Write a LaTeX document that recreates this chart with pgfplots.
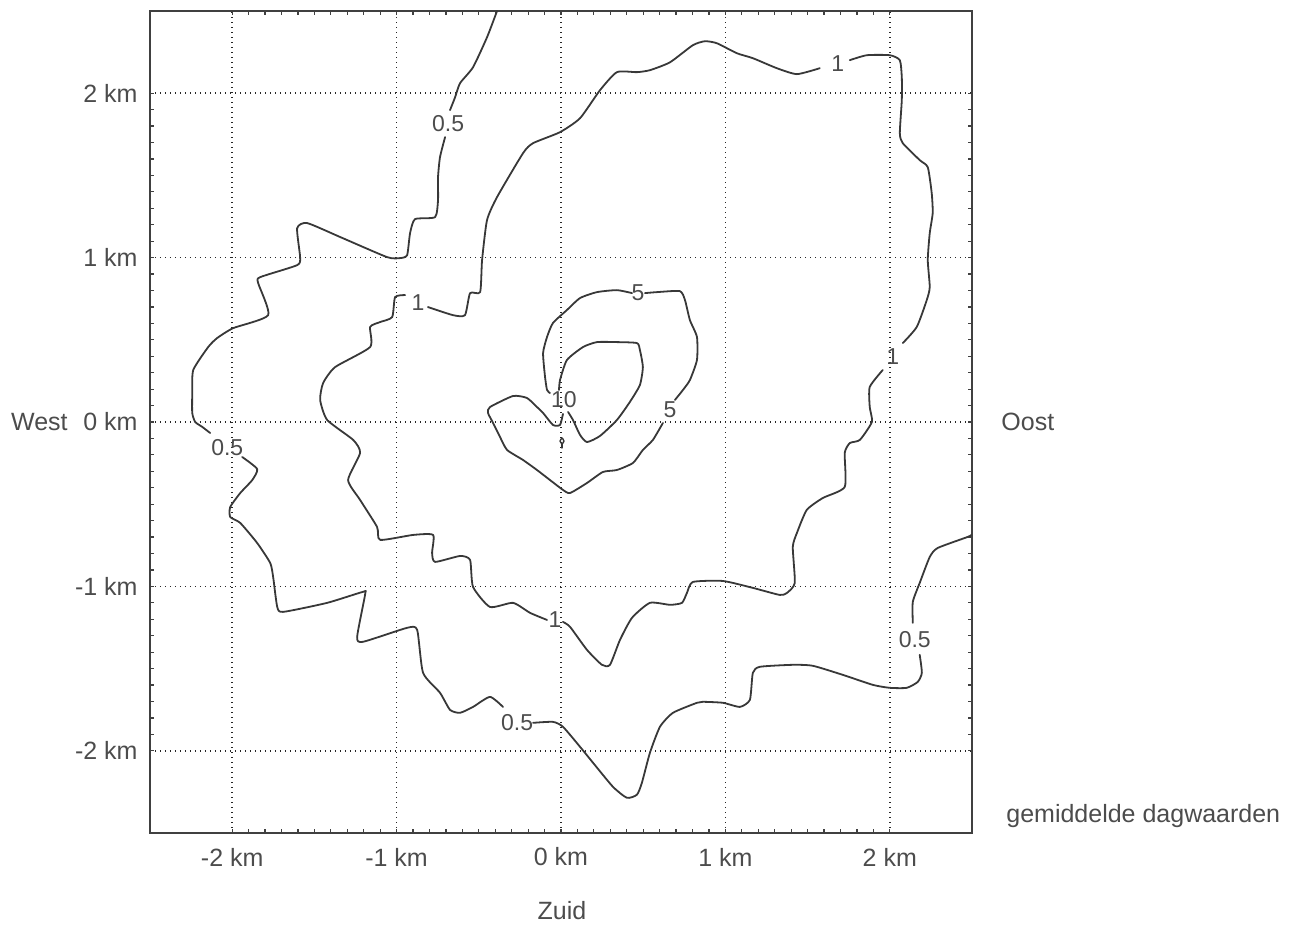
\documentclass[border=0pt]{standalone}
\usepackage{fontspec}
\setmainfont{Liberation Sans}
\usepackage{pgfplots}
\pgfplotsset{compat=1.18}

\definecolor{inkgray}{gray}{0.30}
\definecolor{linegray}{gray}{0.22}
\tikzset{
  contour label/.style={font=\fontsize{11.5}{13}\selectfont, text=inkgray, inner sep=0pt},
  iso/.style={draw=linegray, line width=0.9pt, line join=round, line cap=round, solid, mark=none, smooth, tension=0.35},
}

\begin{document}
\begin{tikzpicture}
\path[use as bounding box] (-75pt,-46pt) rectangle (575.5pt,416.5pt);
\begin{axis}[
  at={(0,0)}, anchor=south west,
  width=411pt, height=411pt, scale only axis,
  xmin=-2.5, xmax=2.5, ymin=-2.5, ymax=2.5,
  xtick={-2,-1,0,1,2}, ytick={-2,-1,0,1,2},
  xticklabels={-2 km,-1 km,0 km,1 km,2 km},
  yticklabels={-2 km,-1 km,0 km,1 km,2 km},
  minor tick num=9,
  tick align=inside,
  major tick length=2pt, minor tick length=2pt,
  every tick/.style={black!75, line width=0.6pt},
  axis line style={black!75, line width=1pt},
  grid=major,
  major grid style={black!85, line width=0.8pt, dash pattern=on 0.7pt off 1.8pt},
  tick label style={font=\fontsize{12.5}{14}\selectfont, text=inkgray},
  xticklabel style={anchor=center, yshift=-12pt},
  yticklabel style={anchor=east, inner sep=0pt, xshift=-6pt},
  clip=true,
]

% --- isoline 0.5 ---
\addplot[iso] coordinates {(-0.389,2.50) (-0.450,2.340) (-0.535,2.158) (-0.614,2.061) (-0.644,1.976) (-0.675,1.897)};
\addplot[iso] coordinates {(-0.705,1.733) (-0.736,1.611) (-0.748,1.489) (-0.748,1.350) (-0.766,1.246) (-0.888,1.234)
  (-0.918,1.149) (-0.936,1.015) (-0.979,0.997) (-1.058,1.003) (-1.343,1.125) (-1.544,1.210) (-1.605,1.179)
  (-1.587,1.003) (-1.605,0.954) (-1.830,0.881) (-1.842,0.845) (-1.781,0.650) (-1.994,0.571) (-2.091,0.511)
  (-2.146,0.456) (-2.237,0.316) (-2.243,0.176) (-2.243,0.055) (-2.225,0.000) (-2.182,-0.030) (-2.134,-0.067)};
\addplot[iso] coordinates {(-1.939,-0.213) (-1.848,-0.286) (-1.878,-0.353) (-1.951,-0.432) (-2.012,-0.517) (-2.012,-0.578)
  (-1.951,-0.614) (-1.848,-0.736) (-1.769,-0.857) (-1.751,-0.942) (-1.726,-1.125) (-1.690,-1.155) (-1.422,-1.100)
  (-1.204,-1.033) (-1.191,-1.046) (-1.240,-1.307) (-1.204,-1.337) (-0.936,-1.252) (-0.875,-1.264) (-0.839,-1.526)
  (-0.736,-1.647) (-0.675,-1.751) (-0.614,-1.769) (-0.535,-1.733) (-0.432,-1.672) (-0.353,-1.733)};
\addplot[iso] coordinates {(-0.170,-1.830) (-0.049,-1.824) (0.012,-1.854) (0.116,-1.976) (0.195,-2.073) (0.316,-2.219)
  (0.401,-2.286) (0.462,-2.267) (0.492,-2.195) (0.541,-2.012) (0.602,-1.854) (0.681,-1.769) (0.827,-1.708)
  (0.863,-1.702) (0.985,-1.708) (1.088,-1.733) (1.149,-1.690) (1.167,-1.526) (1.210,-1.489) (1.410,-1.477)
  (1.532,-1.483) (1.714,-1.538) (1.897,-1.599) (2.000,-1.617) (2.103,-1.617) (2.170,-1.581) (2.195,-1.526)
  (2.182,-1.416)};
\addplot[iso] coordinates {(2.140,-1.222) (2.140,-1.094) (2.182,-0.979) (2.243,-0.821) (2.292,-0.766) (2.474,-0.699) (2.50,-0.685)};

% --- isoline 1 ---
\addplot[iso] coordinates {(1.757,2.201) (1.860,2.231) (2.000,2.231) (2.061,2.201) (2.073,2.097) (2.073,1.957) (2.061,1.757)
  (2.079,1.696) (2.182,1.593) (2.231,1.550) (2.255,1.392) (2.261,1.271) (2.243,1.149) (2.231,0.985) (2.243,0.821)
  (2.225,0.742) (2.164,0.578) (2.079,0.480)};
\addplot[iso] coordinates {(1.957,0.316) (1.878,0.213) (1.878,0.091) (1.891,0.000) (1.818,-0.109) (1.757,-0.128)
  (1.726,-0.188) (1.726,-0.395) (1.593,-0.462) (1.495,-0.535) (1.435,-0.675) (1.410,-0.760) (1.422,-0.979)
  (1.374,-1.040) (1.331,-1.052) (1.167,-1.009) (0.985,-0.967) (0.802,-0.973) (0.766,-1.040) (0.736,-1.100)
  (0.663,-1.112) (0.541,-1.100) (0.432,-1.191) (0.359,-1.325) (0.298,-1.477) (0.249,-1.477) (0.158,-1.386)
  (0.055,-1.246) (0.012,-1.216)};
\addplot[iso] coordinates {(-0.085,-1.204) (-0.188,-1.161) (-0.292,-1.100) (-0.432,-1.125) (-0.535,-1.003) (-0.553,-0.839)
  (-0.614,-0.815) (-0.766,-0.851) (-0.784,-0.796) (-0.778,-0.687) (-0.900,-0.687) (-1.100,-0.717) (-1.119,-0.638)
  (-1.222,-0.474) (-1.295,-0.353) (-1.222,-0.188) (-1.264,-0.109) (-1.422,0.012) (-1.465,0.134) (-1.447,0.237)
  (-1.374,0.334) (-1.161,0.456) (-1.161,0.578) (-1.100,0.608) (-1.027,0.638) (-1.009,0.760) (-0.948,0.772)};
\addplot[iso] coordinates {(-0.809,0.699) (-0.657,0.650) (-0.584,0.650) (-0.553,0.784) (-0.492,0.790) (-0.480,0.985)
  (-0.450,1.228) (-0.389,1.368) (-0.231,1.635) (-0.170,1.696) (-0.006,1.763) (0.116,1.848) (0.237,2.018)
  (0.340,2.128) (0.462,2.128) (0.541,2.140) (0.663,2.188) (0.802,2.292) (0.875,2.316) (0.948,2.304)
  (1.070,2.243) (1.167,2.213) (1.313,2.152) (1.435,2.116) (1.574,2.152)};

% --- isoline 5 ---
\addplot[iso] coordinates {(0.511,0.784) (0.584,0.790) (0.723,0.796) (0.754,0.742) (0.784,0.620) (0.827,0.517)
  (0.827,0.377) (0.784,0.255) (0.742,0.195) (0.693,0.134)};
\addplot[iso] coordinates {(0.620,-0.006) (0.559,-0.109) (0.498,-0.170) (0.438,-0.249) (0.340,-0.292) (0.255,-0.304)
  (0.158,-0.371) (0.055,-0.432) (0.012,-0.413) (-0.067,-0.353) (-0.146,-0.292) (-0.231,-0.231) (-0.328,-0.170)
  (-0.371,-0.091) (-0.413,-0.006) (-0.444,0.055) (-0.432,0.091) (-0.292,0.158) (-0.207,0.146) (-0.146,0.091)
  (-0.109,0.055) (-0.049,-0.018) (-0.006,-0.018) (0.012,0.049)};
\addplot[iso] coordinates {(-0.067,0.176) (-0.085,0.195) (-0.097,0.274) (-0.109,0.419) (-0.085,0.517) (-0.049,0.602)
  (0.036,0.681) (0.116,0.754) (0.219,0.790) (0.340,0.802) (0.432,0.784)};

% --- isoline 10 ---
\addplot[iso] coordinates {(0.043,0.061) (0.073,0.012) (0.116,-0.079) (0.158,-0.122) (0.237,-0.085) (0.340,0.012)
  (0.419,0.122) (0.480,0.225) (0.498,0.334) (0.480,0.438) (0.462,0.480) (0.340,0.486) (0.219,0.486)
  (0.134,0.456) (0.036,0.377) (-0.006,0.255) (-0.012,0.195)};

% small closed isoline just south of the source
\addplot[iso, line width=0.7pt] coordinates {(-0.006,-0.116) (0.006,-0.097) (0.018,-0.116) (0.006,-0.134) (-0.006,-0.116)};
\addplot[iso, line width=0.7pt] coordinates {(0.006,-0.134) (0.006,-0.158)};

% isoline labels
\node[contour label] at (axis cs:-0.687,1.818) {0.5};
\node[contour label] at (axis cs:-2.030,-0.158) {0.5};
\node[contour label] at (axis cs:-0.267,-1.830) {0.5};
\node[contour label] at (axis cs:2.152,-1.325) {0.5};
\node[contour label] at (axis cs:1.684,2.182) {1};
\node[contour label] at (axis cs:2.018,0.395) {1};
\node[contour label] at (axis cs:-0.036,-1.204) {1};
\node[contour label] at (axis cs:-0.869,0.729) {1};
\node[contour label] at (axis cs:0.468,0.784) {5};
\node[contour label] at (axis cs:0.663,0.073) {5};
\node[contour label] at (axis cs:0.018,0.134) {10};
\end{axis}

% compass directions and caption
\begin{scope}[every node/.style={font=\fontsize{12.5}{14}\selectfont, text=inkgray, inner sep=0pt}]
\node[anchor=east] at (-41pt,205.5pt) {West};
\node[anchor=west] at (425.5pt,205.5pt) {Oost};
\node at (206pt,-39pt) {Zuid};
\node[anchor=base west] at (428pt,5pt) {gemiddelde dagwaarden};
\end{scope}
\end{tikzpicture}
\end{document}
